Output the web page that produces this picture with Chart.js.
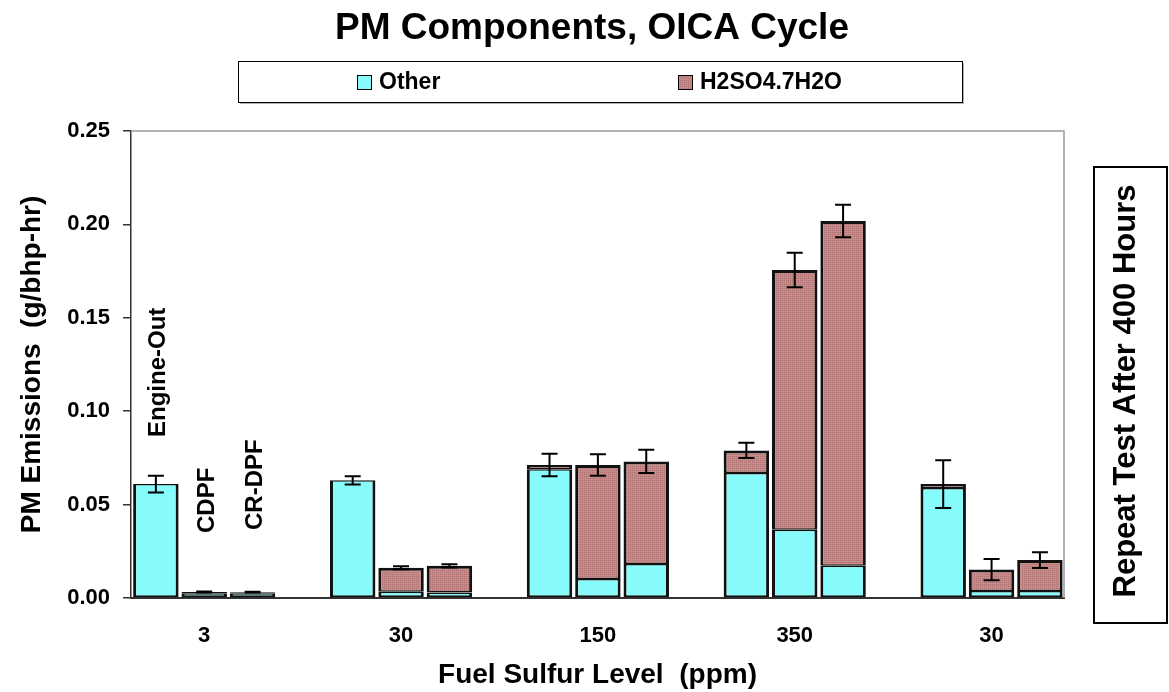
<!DOCTYPE html>
<html lang="en">
<head>
  <meta charset="UTF-8" />
  <title>PM Components, OICA Cycle</title>
  <script src="https://cdn.jsdelivr.net/npm/chart.js"></script>
  <style>
    body {
      margin: 0;
      background: #fff;
    }
    #wrap {
      position: relative;
      width: 1169px;
      height: 692px;
    }
  </style>
</head>
<body>
  <div id="wrap">
    <canvas id="pmChart"></canvas>
  </div>

  <script>
    // fuel sulfur level (ppm) for each group of bars
    const sulfurLevels = ['3', '30', '150', '350', '30'];
    const seriesNames = ['Other', 'H2SO4.7H2O'];
    const deviceNames = ['Engine-Out', 'CDPF', 'CR-DPF'];

    // bar 1: engine-out
    const otherOut = [0.061, 0.063, 0.0689, 0.0669, 0.0589];
    const sulfateOut = [0, 0, 0.0023, 0.0121, 0.0021];
    const errOut = [0.0045, 0.0022, 0.006, 0.0041, 0.0128];
    // bar 2: CDPF
    const otherCdpf = [0.0025, 0.0034, 0.0102, 0.0366, 0.0037];
    const sulfateCdpf = [0.0007, 0.0128, 0.061, 0.139, 0.0115];
    const errCdpf = [0.0003, 0.0008, 0.0057, 0.0092, 0.0057];
    // bar 3: CR-DPF
    const otherCr = [0.0025, 0.003, 0.0182, 0.0173, 0.0037];
    const sulfateCr = [0.0006, 0.0142, 0.0549, 0.1845, 0.0166];
    const errCr = [0.0002, 0.0009, 0.0062, 0.0087, 0.0042];

    const yTicks = [0, 0.05, 0.10, 0.15, 0.20, 0.25];

    const otherSets = [otherOut, otherCdpf, otherCr];
    const sulfateSets = [sulfateOut, sulfateCdpf, sulfateCr];
    const errSets = [errOut, errCdpf, errCr];

    const FONT = "'Liberation Sans', Arial, sans-serif";
    Chart.defaults.font.family = FONT;
    Chart.defaults.color = '#000';

    // small dotted fills like the old spreadsheet patterns
    function makePattern(c1, c2) {
      const p = document.createElement('canvas');
      p.width = 4;
      p.height = 4;
      const g = p.getContext('2d');
      g.fillStyle = c1;
      g.fillRect(0, 0, 4, 4);
      g.fillStyle = c2;
      g.fillRect(0, 0, 1, 1);
      g.fillRect(2, 2, 1, 1);
      g.fillRect(2, 0, 1, 1);
      g.fillRect(0, 2, 1, 1);
      return g.createPattern(p, 'repeat');
    }
    const cyanFill = makePattern('#80ffff', '#8ef6f6');
    const brownFill = makePattern('#c98a8a', '#ad7070');

    // split the outline between stacked segments so joins stay thin
    const lowerBorder = c => c.raw.y === 0 ? 0 : { top: 1.5, left: 3, right: 3, bottom: 2 };
    const upperBorder = c => c.raw.y === 0 ? 0 : { top: 3, left: 3, right: 3, bottom: 1.5 };

    const datasets = [];
    for (let s = 0; s < 3; s++) {
      datasets.push({
        label: seriesNames[0],
        data: otherSets[s].map((v, i) => ({ x: i, y: v })),
        backgroundColor: cyanFill,
        borderWidth: lowerBorder,
        stack: 'bar' + s
      });
      datasets.push({
        label: seriesNames[1],
        data: sulfateSets[s].map((v, i) => ({ x: i, y: v })),
        backgroundColor: brownFill,
        borderWidth: upperBorder,
        stack: 'bar' + s
      });
    }

    const overlays = {
      id: 'overlays',
      afterDatasetsDraw(chart) {
        const ctx = chart.ctx;
        const y = chart.scales.y;
        const area = chart.chartArea;
        ctx.save();

        // grey frame on top and right of plot
        ctx.strokeStyle = '#9a9a9a';
        ctx.lineWidth = 1.5;
        ctx.beginPath();
        ctx.moveTo(area.left, area.top);
        ctx.lineTo(area.right, area.top);
        ctx.lineTo(area.right, area.bottom);
        ctx.stroke();

        // error bars on the stacked totals
        ctx.strokeStyle = '#000';
        ctx.lineWidth = 2;
        for (let s = 0; s < 3; s++) {
          const meta = chart.getDatasetMeta(2 * s + 1);
          meta.data.forEach((bar, i) => {
            const tot = otherSets[s][i] + sulfateSets[s][i];
            const e = errSets[s][i];
            const y1 = y.getPixelForValue(tot + e);
            const y2 = y.getPixelForValue(tot - e);
            ctx.beginPath();
            ctx.moveTo(bar.x, y1); ctx.lineTo(bar.x, y2);
            ctx.moveTo(bar.x - 8, y1); ctx.lineTo(bar.x + 8, y1);
            ctx.moveTo(bar.x - 8, y2); ctx.lineTo(bar.x + 8, y2);
            ctx.stroke();
          });
        }

        // device labels above the first group
        const labelBase = [0.0862, 0.0348, 0.0364];
        ctx.fillStyle = '#000';
        ctx.font = 'bold 24px ' + FONT;
        ctx.textAlign = 'left';
        ctx.textBaseline = 'middle';
        for (let s = 0; s < 3; s++) {
          const bar = chart.getDatasetMeta(2 * s).data[0];
          ctx.save();
          ctx.translate(bar.x + 3, y.getPixelForValue(labelBase[s]));
          ctx.rotate(-Math.PI / 2);
          ctx.fillText(deviceNames[s], 0, 0);
          ctx.restore();
        }

        // boxed note on the right
        const bx = area.right + 30, by = area.top + 36;
        const bw = 73, bh = area.bottom + 25 - by;
        ctx.strokeStyle = '#000';
        ctx.lineWidth = 2;
        ctx.strokeRect(bx, by, bw, bh);
        ctx.font = 'bold 31px ' + FONT;
        ctx.textAlign = 'center';
        ctx.save();
        ctx.translate(bx + 32, by + bh / 2 - 4);
        ctx.rotate(-Math.PI / 2);
        ctx.fillText('Repeat Test After 400 Hours', 0, 0);
        ctx.restore();

        // chart title
        ctx.font = 'bold 37px ' + FONT;
        ctx.fillText('PM Components, OICA Cycle', 592, 29);

        // legend box
        const lx = 238, ly = 61, lw = 724, lh = 41;
        ctx.fillStyle = '#b0b0b0';
        ctx.fillRect(lx + 2, ly + lh, lw, 2);
        ctx.fillRect(lx + lw, ly + 2, 2, lh);
        ctx.fillStyle = '#fff';
        ctx.fillRect(lx, ly, lw, lh);
        ctx.strokeStyle = '#000';
        ctx.lineWidth = 1;
        ctx.strokeRect(lx + 0.5, ly + 0.5, lw, lh);
        const items = [[357, cyanFill], [678, brownFill]];
        ctx.font = 'bold 23px ' + FONT;
        ctx.textAlign = 'left';
        items.forEach(([ix, fill], k) => {
          ctx.fillStyle = fill;
          ctx.fillRect(ix, 75, 15, 15);
          ctx.strokeRect(ix + 0.5, 75.5, 14, 14);
          ctx.fillStyle = '#000';
          ctx.fillText(seriesNames[k], ix + 22, 83);
        });

        ctx.restore();
      }
    };

    new Chart(document.getElementById('pmChart'), {
      type: 'bar',
      data: { datasets },
      plugins: [overlays],
      options: {
        responsive: true,
        maintainAspectRatio: false,
        animation: false,
        layout: { padding: { left: 0, right: 105, top: 131, bottom: 0 } },
        datasets: {
          bar: {
            categoryPercentage: 0.737,
            barPercentage: 0.94,
            borderColor: '#111',
            borderSkipped: false
          }
        },
        plugins: {
          legend: { display: false },
          tooltip: { enabled: false },
          title: { display: false }
        },
        scales: {
          x: {
            type: 'linear',
            offset: false,
            min: -0.372,
            max: 4.368,
            afterFit: s => { s.height = 94; },
            grid: { display: false, offset: false },
            border: { display: true, color: '#333', width: 2 },
            ticks: {
              stepSize: 1,
              includeBounds: false,
              autoSkip: false,
              maxRotation: 0,
              padding: 17,
              font: { size: 22, weight: 'bold' },
              callback: v => Number.isInteger(v) ? sulfurLevels[v] : ''
            },
            title: {
              display: true,
              text: 'Fuel Sulfur Level  (ppm)',
              font: { size: 28, weight: 'bold' },
              padding: { top: 0, bottom: 0 }
            }
          },
          y: {
            stacked: true,
            min: 0,
            max: 0.25,
            afterFit: s => { s.width = 131; },
            afterBuildTicks: s => { s.ticks = yTicks.map(v => ({ value: v })); },
            grid: {
              drawOnChartArea: false,
              drawTicks: true,
              tickLength: 8,
              color: '#333',
              lineWidth: 1.5
            },
            border: { display: true, color: '#333', width: 1.5 },
            ticks: {
              padding: 13,
              font: { size: 22, weight: 'bold' },
              callback: v => v.toFixed(2)
            },
            title: {
              display: true,
              text: 'PM Emissions  (g/bhp-hr)',
              font: { size: 28, weight: 'bold' },
              padding: { top: 15, bottom: 0 }
            }
          }
        }
      }
    });
  </script>
</body>
</html>
